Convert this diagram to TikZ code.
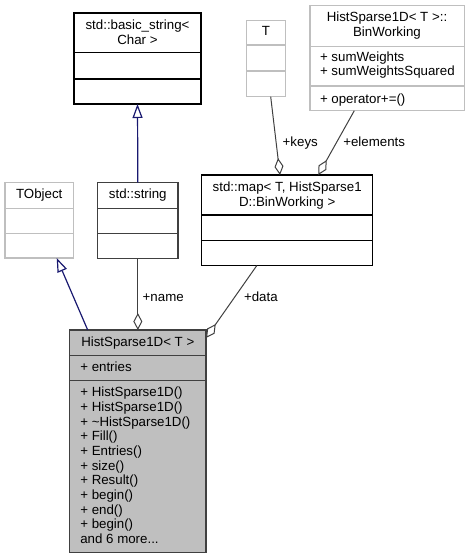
\documentclass[tikz,border=0pt]{standalone}
\usepackage{fontspec}
\setmainfont{Liberation Sans}
\usetikzlibrary{arrows.meta,calc}
\definecolor{grey75}{HTML}{BFBFBF}
\definecolor{grey25}{HTML}{404040}
\definecolor{midblue}{HTML}{191970}
\tikzset{
  umlbox/.style={draw=black,line width=1.1pt,inner sep=0pt,outer sep=0pt,anchor=north west,fill=white},
  greybox/.style={umlbox,draw=grey75},
  mainbox/.style={umlbox,draw=grey25,fill=grey75},
  txt/.style={inner sep=0pt,outer sep=0pt,font=\fontsize{13.3}{14.7}\selectfont},
  ltxt/.style={txt,anchor=base west},
  ctxt/.style={txt,anchor=base},
  inh/.style={draw=midblue,line width=1.2pt,-{Triangle[open,length=14pt,width=10pt,fill=white]}},
  agg/.style={draw=grey25,line width=1pt,-{Diamond[open,length=17pt,width=9pt,fill=white]}},
}
\begin{document}
\begin{tikzpicture}[x=1pt,y=-1pt]
\useasboundingbox (0,0) rectangle (470,559);
% boxes
\node[umlbox,minimum width=127pt,minimum height=91pt] (bstr) at (74,13) {};
\draw[line width=1.1pt] (74,52.7) -- (201,52.7) (74,79) -- (201,79);
\node[greybox,minimum width=38.6pt,minimum height=76pt] (tt) at (246.7,20.7) {};
\draw[line width=1.1pt,grey75] (246.7,45) -- (285.3,45) (246.7,71) -- (285.3,71);
\node[greybox,minimum width=154.3pt,minimum height=105pt] (bin) at (310,5.7) {};
\draw[line width=1.1pt,grey75] (310,46.3) -- (464.3,46.3) (310,86) -- (464.3,86);
\node[greybox,minimum width=68.3pt,minimum height=75.3pt] (tobj) at (5,182.7) {};
\draw[line width=1.1pt,grey75] (5,208.3) -- (73.3,208.3) (5,233.3) -- (73.3,233.3);
\node[umlbox,draw=grey25,minimum width=80.3pt,minimum height=75.6pt] (str) at (97.7,182.7) {};
\draw[line width=1.1pt,grey25] (97.7,208.3) -- (178,208.3) (97.7,233.3) -- (178,233.3);
\node[umlbox,minimum width=171pt,minimum height=90.7pt] (map) at (201.7,175) {};
\draw[line width=1.1pt] (201.7,215) -- (372.7,215) (201.7,240.7) -- (372.7,240.7);
\node[mainbox,minimum width=136.3pt,minimum height=222.7pt] (hist) at (69.7,330) {};
\draw[line width=1.1pt,grey25] (69.7,355.3) -- (206,355.3) (69.7,380.7) -- (206,380.7);
% texts
\node[ctxt] (bstr1) at (137.5,30) {std::basic\_string<};
\node[ctxt] (bstr2) at (137.5,44.2) {Char >};
\node[ctxt] (tt1) at (266,36) {T};
\node[ctxt] (bin1) at (387,22) {HistSparse1D< T >::};
\node[ctxt] (bin2) at (387,36.5) {BinWorking};
\node[ltxt] (bin3) at (320,62) {+ sumWeights};
\node[ltxt] (bin4) at (320,76) {+ sumWeightsSquared};
\node[ltxt] (bin5) at (320,103) {+ operator+=()};
\node[ctxt] (tobj1) at (39.2,198) {TObject};
\node[ctxt] (str1) at (137.8,198) {std::string};
\node[ctxt] (map1) at (287.2,191.5) {std::map< T, HistSparse1};
\node[ctxt] (map2) at (287.2,206.5) {D::BinWorking >};
\node[ctxt] (h0) at (137.8,346.5) {HistSparse1D< T >};
\node[ltxt] (h1) at (80.3,371.5) {+ entries};
\node[ltxt] (m1) at (80.3,396.5) {+ HistSparse1D()};
\node[ltxt] (m2) at (80.3,411.5) {+ HistSparse1D()};
\node[ltxt] (m3) at (80.3,426.5) {+ \textasciitilde HistSparse1D()};
\node[ltxt] (m4) at (80.3,440.5) {+ Fill()};
\node[ltxt] (m5) at (80.3,455.5) {+ Entries()};
\node[ltxt] (m6) at (80.3,470.5) {+ size()};
\node[ltxt] (m7) at (80.3,484.8) {+ Result()};
\node[ltxt] (m8) at (80.3,499.8) {+ begin()};
\node[ltxt] (m9) at (80.3,514.8) {+ end()};
\node[ltxt] (m10) at (80.3,528.8) {+ begin()};
\node[ltxt] (m11) at (80.3,543.5) {and 6 more...};
% connectors
\draw[inh] (str.north) -- (bstr.south);
\draw[inh] ($(hist.north west)+(18,0)$) -- ($(tobj.south west)+(51.7,0)$);
\draw[agg] (str.south) -- (hist.north);
\draw[agg] ($(map.south west)+(55,0)$) -- ($(hist.north east)+(0,8)$);
\draw[agg] ($(tt.south west)+(24,0)$) -- ($(map.north west)+(78.3,0)$);
\draw[agg] ($(bin.south west)+(44.3,0)$) -- ($(map.north west)+(116.6,0)$);
% labels
\node[ltxt] (lname) at (142.7,301.5) {+name};
\node[ltxt] (ldata) at (244,301.5) {+data};
\node[ltxt] (lkeys) at (282.7,146.5) {+keys};
\node[ltxt] (lelem) at (343.3,146.5) {+elements};
\end{tikzpicture}
\end{document}
